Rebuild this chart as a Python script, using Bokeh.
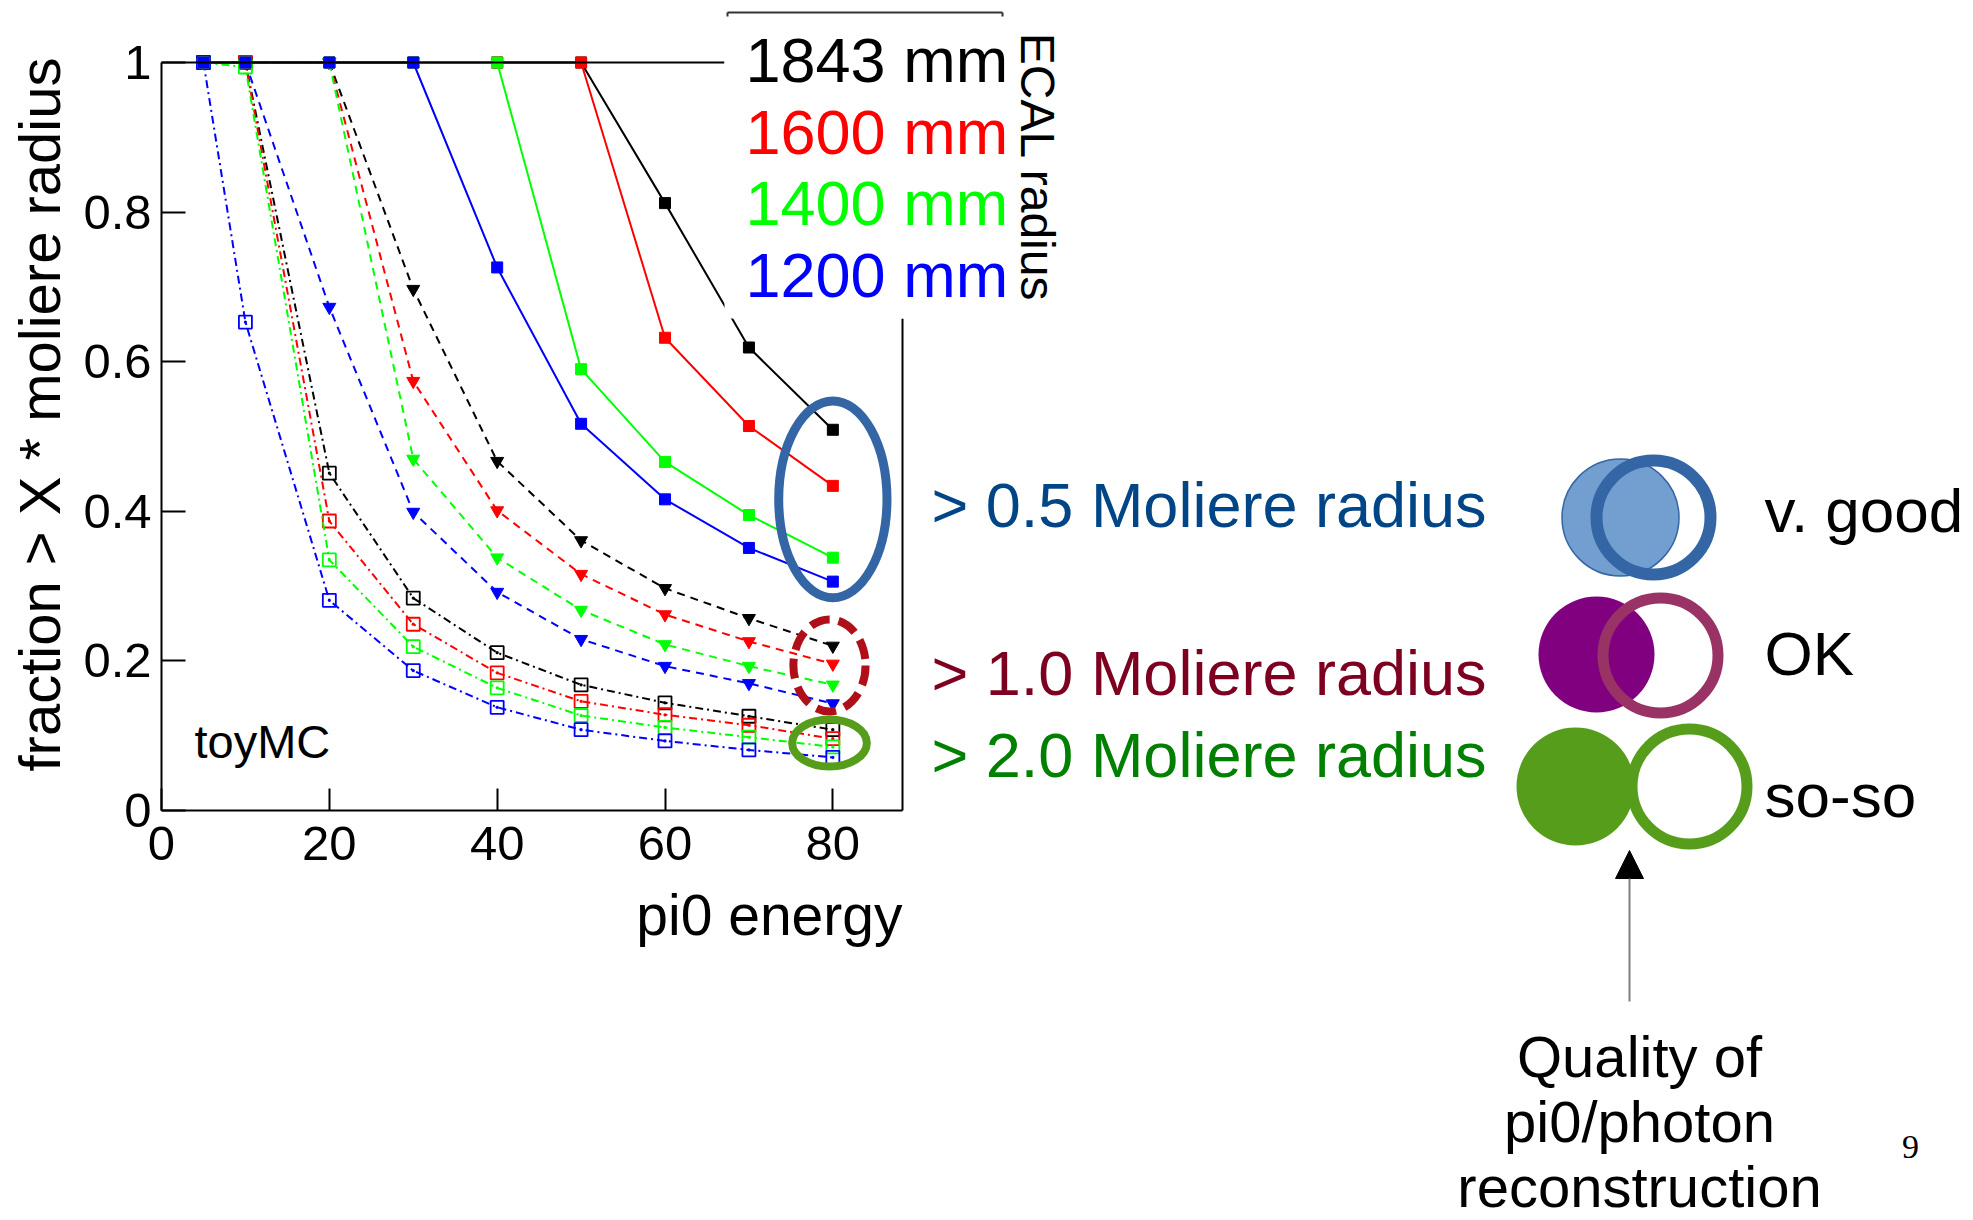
import numpy as np
from bokeh.plotting import figure
from bokeh.models import (Range1d, FixedTicker, Label, Arrow, NormalHead,
                          BoxAnnotation, LinearAxis)
from bokeh.embed import file_html
from bokeh.resources import INLINE

# ---------------- data ----------------
energy = [5, 10, 20, 30, 40, 50, 60, 70, 80]

radius_labels = ["1843 mm", "1600 mm", "1400 mm", "1200 mm"]

# fraction > 0.5 Moliere radius (solid, filled squares)
r1843_05 = [1, 1, 1, 1, 1, 1, 0.812, 0.619, 0.509]
r1600_05 = [1, 1, 1, 1, 1, 1, 0.632, 0.514, 0.434]
r1400_05 = [1, 1, 1, 1, 1, 0.590, 0.466, 0.395, 0.338]
r1200_05 = [1, 1, 1, 1, 0.726, 0.517, 0.416, 0.351, 0.306]

# fraction > 1.0 Moliere radius (dashed, filled down-triangles)
r1843_10 = [1, 1, 1, 0.697, 0.467, 0.361, 0.297, 0.257, 0.220]
r1600_10 = [1, 1, 1, 0.574, 0.401, 0.316, 0.262, 0.226, 0.196]
r1400_10 = [1, 1, 1, 0.470, 0.338, 0.268, 0.222, 0.193, 0.168]
r1200_10 = [1, 1, 0.673, 0.399, 0.292, 0.229, 0.193, 0.170, 0.143]

# fraction > 2.0 Moliere radius (dash-dot, open squares)
r1843_20 = [1, 1, 0.451, 0.284, 0.211, 0.168, 0.144, 0.126, 0.108]
r1600_20 = [1, 1, 0.387, 0.249, 0.184, 0.146, 0.128, 0.114, 0.096]
r1400_20 = [1, 0.994, 0.335, 0.219, 0.164, 0.127, 0.111, 0.098, 0.085]
r1200_20 = [1, 0.653, 0.281, 0.187, 0.138, 0.108, 0.093, 0.081, 0.071]

x_ticks = [0, 20, 40, 60, 80]
y_ticks = [0, 0.2, 0.4, 0.6, 0.8, 1]
y_tick_labels = ["0", "0.2", "0.4", "0.6", "0.8", "1"]

threshold_labels = ["> 0.5 Moliere radius", "> 1.0 Moliere radius", "> 2.0 Moliere radius"]
quality_labels = ["v. good", "OK", "so-so"]
caption_lines = ["Quality of", "pi0/photon", "reconstruction"]

# ---------------- styling / geometry ----------------
series_colors = ["#000000", "#ff0000", "#00ff00", "#0000ff"]
threshold_colors = ["#004586", "#7e0021", "#008000"]
FONT = "Liberation Sans"

W, H = 1973, 1220
FL, FR, FT, FB = 161, 902, 62, 810   # chart box edges (px)
XMAX = 88.3
SX = (FR - FL) / XMAX               # px per energy unit
SY = (FB - FT) / 1.0                # px per fraction unit


def dx(px):
    return (px - FL) / SX


def dy(py):
    return (FB - py) / SY


p = figure(width=W, height=H, output_backend="svg", toolbar_location=None,
           x_range=Range1d(dx(0), dx(W)), y_range=Range1d(dy(H), dy(0)),
           min_border=0, min_border_left=0, min_border_right=0,
           min_border_top=0, min_border_bottom=0)
p.background_fill_color = "white"
p.border_fill_color = "white"
p.grid.visible = False
p.outline_line_color = None

xa = p.xaxis[0]
ya = p.yaxis[0]
xa.fixed_location = 0
ya.fixed_location = 0
xa.bounds = (0, XMAX)
ya.bounds = (0, 1)

for ax in (xa, ya):
    ax.axis_line_color = "black"
    ax.axis_line_width = 2
    ax.major_tick_line_color = "black"
    ax.major_tick_line_width = 2
    ax.major_tick_out = 0
    ax.minor_tick_in = 0
    ax.minor_tick_out = 0
    ax.major_label_text_font = FONT
    ax.major_label_text_font_size = "49px"
    ax.major_label_text_color = "black"

xa.ticker = FixedTicker(ticks=x_ticks, minor_ticks=[])
xa.major_tick_in = 22
xa.major_label_standoff = 16
ya.ticker = FixedTicker(ticks=y_ticks, minor_ticks=[])
ya.major_tick_in = 24
ya.major_label_standoff = 10
ya.major_label_overrides = {t: l for t, l in zip(y_ticks, y_tick_labels)}

# top and right frame lines of the chart (partly hidden by the legend box)
top_ax = LinearAxis(fixed_location=1, bounds=(0, dx(724)),
                    ticker=FixedTicker(ticks=[], minor_ticks=[]),
                    major_label_text_font_size="0px",
                    axis_line_color="black", axis_line_width=2,
                    major_tick_in=0, major_tick_out=0, minor_tick_in=0, minor_tick_out=0)
right_ax = LinearAxis(fixed_location=XMAX, bounds=(0, dy(318)),
                      ticker=FixedTicker(ticks=[], minor_ticks=[]),
                      major_label_text_font_size="0px",
                      axis_line_color="black", axis_line_width=2,
                      major_tick_in=0, major_tick_out=0, minor_tick_in=0, minor_tick_out=0)
p.add_layout(top_ax, "above")
p.add_layout(right_ax, "right")

# ---------------- series ----------------
s20 = [r1843_20, r1600_20, r1400_20, r1200_20]
s10 = [r1843_10, r1600_10, r1400_10, r1200_10]
s05 = [r1843_05, r1600_05, r1400_05, r1200_05]

for ys, c in zip(s20, series_colors):
    p.line(energy, ys, line_color=c, line_width=2, line_dash="8 4 2 4")
    p.scatter(energy, ys, marker="square_dot", size=13, fill_color=None,
              line_color=c, line_width=1.8)
for ys, c in zip(s10, series_colors):
    p.line(energy, ys, line_color=c, line_width=2, line_dash="8 6")
    p.scatter(energy, ys, marker="inverted_triangle", size=13, fill_color=c,
              line_color=c, line_width=1)
for ys, c in zip(s05, series_colors):
    p.line(energy, ys, line_color=c, line_width=2)
    p.scatter(energy, ys, marker="square", size=11, fill_color=c,
              line_color=c, line_width=1)

# highlight ellipses around the 80 GeV points
p.ellipse(x=80, y=0.416, width=12.9, height=0.2635, fill_color=None,
          line_color="#3465a4", line_width=9)
p.ellipse(x=79.6, y=0.194, width=8.6, height=0.123, fill_color=None,
          line_color="#b00f1a", line_width=8, line_dash="20 9")
p.ellipse(x=79.6, y=0.0903, width=8.9, height=0.063, fill_color=None,
          line_color="#579d1c", line_width=8)

# toyMC
p.add_layout(Label(x=dx(194), y=dy(741), text="toyMC", text_font=FONT,
                   text_baseline="middle",
                   text_font_size="47px", text_color="black"))

# axis titles
p.add_layout(Label(x=dx(39), y=dy(57), text="fraction > X * moliere radius",
                   angle=np.pi / 2, text_align="right", text_baseline="middle",
                   text_font=FONT, text_font_size="58px", text_color="black"))
p.add_layout(Label(x=dx(902), y=dy(914), text="pi0 energy", text_align="right",
                   text_baseline="middle", text_font=FONT,
                   text_font_size="57px", text_color="black"))

# ---------------- legend box ----------------
p.add_layout(BoxAnnotation(left=dx(724), right=dx(1003), bottom=dy(318), top=dy(12),
                           fill_color="white", fill_alpha=1.0, line_color=None,
                           level="overlay"))
p.add_layout(Arrow(start=None, end=None, x_start=dx(727), x_end=dx(1002),
                   y_start=dy(12), y_end=dy(12), line_color="#333333",
                   line_width=2, level="overlay"))
for xe in (727, 1002):
    p.add_layout(Arrow(start=None, end=None, x_start=dx(xe), x_end=dx(xe),
                       y_start=dy(12), y_end=dy(16), line_color="#333333",
                       line_width=2, level="overlay"))
for i, (lbl, c) in enumerate(zip(radius_labels, series_colors)):
    p.add_layout(Label(x=dx(745), y=dy(59.5 + 71.7 * i), text=lbl, text_font=FONT,
                       text_font_size="63px", text_color=c, text_baseline="middle",
                       level="overlay"))
p.add_layout(Label(x=dx(1037), y=dy(167), text="ECAL radius", angle=-np.pi / 2,
                   text_align="center", text_baseline="middle", text_font=FONT,
                   text_font_size="48px", text_color="black", level="overlay"))

# ---------------- right-hand explanation ----------------
for lbl, c, mid in zip(threshold_labels, threshold_colors, [504, 672, 754]):
    p.add_layout(Label(x=dx(931), y=dy(mid), text=lbl, text_font=FONT,
                       text_font_size="63px", text_color=c, text_baseline="middle",
                       level="overlay"))

for lbl, mid in zip(quality_labels, [510, 653, 795]):
    p.add_layout(Label(x=dx(1764), y=dy(mid), text=lbl, text_font=FONT,
                       text_font_size="62px", text_color="black",
                       text_baseline="middle", level="overlay"))

# circles: filled ones then rings
fills = [(1620, 517, 117, "#729fcf", "#3465a4"),
         (1596, 654, 116, "#800080", None),
         (1575, 786, 118, "#579d1c", None)]
for cx, cy, d, fc, lc in fills:
    p.scatter([dx(cx)], [dy(cy)], marker="circle", size=d, fill_color=fc,
              line_color=lc, line_width=1.5)
rings = [(1653, 517, 114, "#3465a4", 12),
         (1660, 655, 115, "#993366", 11),
         (1689, 786, 115, "#579d1c", 11)]
for cx, cy, d, lc, lw in rings:
    p.scatter([dx(cx)], [dy(cy)], marker="circle", size=d, fill_color=None,
              line_color=lc, line_width=lw)

p.add_layout(Arrow(end=NormalHead(size=28, fill_color="black", line_color="black"),
                   x_start=dx(1629), y_start=dy(1001), x_end=dx(1629), y_end=dy(850),
                   line_color="#808080", line_width=2))

for i, lbl in enumerate(caption_lines):
    p.add_layout(Label(x=dx(1639), y=dy(1056 + 65 * i), text=lbl, text_align="center",
                       text_baseline="middle", text_font=FONT,
                       text_font_size="58px", text_color="black"))

p.add_layout(Label(x=dx(1910), y=dy(1146), text="9", text_align="center",
                   text_baseline="middle", text_font="Liberation Serif",
                   text_font_size="34px", text_color="black"))

open("out.html", "w").write(file_html(p, INLINE))
